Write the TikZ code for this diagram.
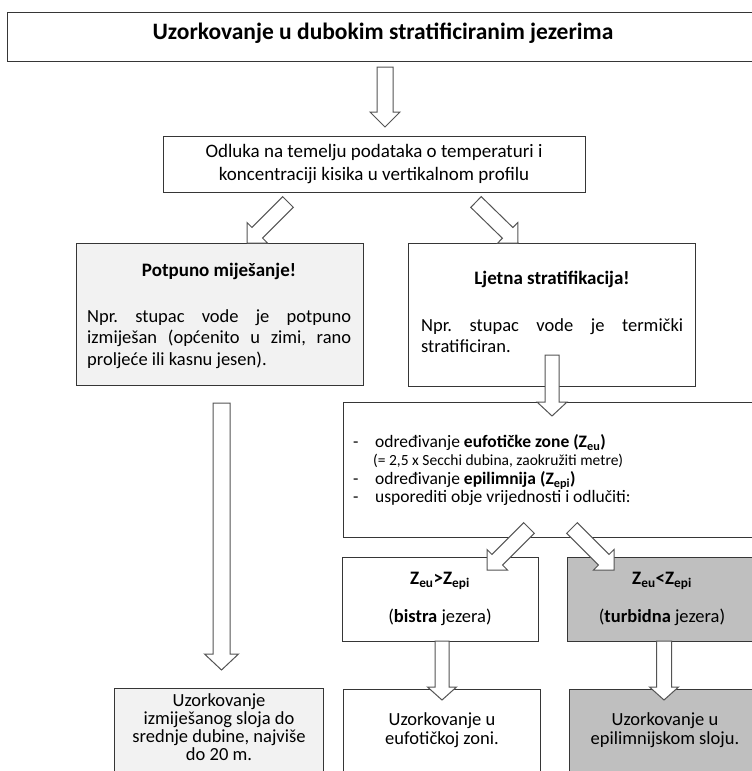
\documentclass[tikz,border=0pt]{standalone}
\usepackage{fontspec}
\setmainfont{Carlito}
\usetikzlibrary{calc}
\frenchspacing
\definecolor{lightfill}{HTML}{F2F2F2}
\definecolor{darkfill}{HTML}{BFBFBF}
\definecolor{edge}{HTML}{363636}
\newcommand{\blkarrow}[5]{%
  \coordinate (ba-b) at ($(#2)!#5!(#1)$);
  \draw[arrowbody] ($(#1)!#3!90:(#2)$) -- ($(ba-b)!#3!90:(#2)$) -- ($(ba-b)!#4!90:(#2)$)
    -- (#2) -- ($(ba-b)!#4!-90:(#2)$) -- ($(ba-b)!#3!-90:(#2)$) -- ($(#1)!#3!-90:(#2)$) -- cycle;}
\tikzset{
  box/.style={draw=edge, line width=1.1pt, inner sep=0pt, anchor=north west},
  arrowbody/.style={draw=edge!85, fill=white, line width=1pt, line join=miter},
  txt/.style={inner sep=0pt, font=\fontsize{18.5}{22}\selectfont, text height=0.7em, text depth=0.2em},
  listtxt/.style={inner sep=0pt, font=\fontsize{17.5}{21}\selectfont, text height=0.7em, text depth=0.2em},
  smalltxt/.style={inner sep=0pt, font=\fontsize{15.5}{19}\selectfont, text height=0.7em, text depth=0.2em},
  para/.style={inner sep=0pt, font=\fontsize{18.5}{21.5}\selectfont, align=justify, anchor=north west},
  btxt/.style={txt, font=\bfseries\fontsize{19}{22}\selectfont},
}
\begin{document}
\begin{tikzpicture}[x=1pt,y=-1pt]
\useasboundingbox (0,0) rectangle (752,771);
% boxes
\node[box, minimum width=753pt, minimum height=49pt] (title) at (7,12) {};
\node[box, minimum width=422pt, minimum height=56pt] (odl) at (163,136) {};
\node[box, fill=lightfill, minimum width=287pt, minimum height=142pt] (mix) at (76,243) {};
\node[box, minimum width=287pt, minimum height=143pt] (strat) at (408,243) {};
\node[box, minimum width=420pt, minimum height=135pt] (det) at (343,402) {};
\node[box, minimum width=196pt, minimum height=84pt] (clear) at (342,557) {};
\node[box, fill=darkfill, minimum width=200pt, minimum height=84pt] (turb) at (567,557) {};
\node[box, fill=lightfill, minimum width=209pt, minimum height=100pt] (smix) at (114,688) {};
\node[box, minimum width=197pt, minimum height=100pt] (seu) at (343,689) {};
\node[box, fill=darkfill, minimum width=200pt, minimum height=100pt] (sepi) at (569,689) {};
% texts
\node[txt, font=\bfseries\fontsize{23.5}{27}\selectfont] (ttltxt) at (383,37) {Uzorkovanje u dubokim stratificiranim jezerima};
\node[txt, font=\fontsize{19}{22}\selectfont] (odl1) at (374,155) {Odluka na temelju podataka o temperaturi i};
\node[txt, font=\fontsize{19}{22}\selectfont] (odl2) at (374,178) {koncentraciji kisika u vertikalnom profilu};
\node[btxt] (mixh) at (219,274) {Potpuno miješanje!};
\node[para, text width=264pt] (mixp) at (87,309) {Npr. stupac vode je potpuno\linebreak izmiješan (općenito u zimi, rano\linebreak proljeće ili kasnu jesen).};
\node[btxt] (strath) at (552,282) {Ljetna stratifikacija!};
\node[para, text width=262pt] (stratp) at (421,318) {Npr. stupac vode je termički\linebreak stratificiran.};
\node[listtxt, anchor=west] (d1) at (353,445) {-};
\node[listtxt, anchor=west] (l1) at (375,445) {određivanje \textbf{eufotičke zone (Z\textsubscript{eu})}};
\node[smalltxt, anchor=west] (l2) at (373,463) {(= 2,5 x Secchi dubina, zaokružiti metre)};
\node[listtxt, anchor=west] (d3) at (353,482) {-};
\node[listtxt, anchor=west] (l3) at (375,482) {određivanje \textbf{epilimnija (Z\textsubscript{epi})}};
\node[listtxt, anchor=west] (d4) at (353,500) {-};
\node[listtxt, anchor=west] (l4) at (375,500) {usporediti obje vrijednosti i odlučiti:};
\node[btxt] (c1) at (440,582) {Z\textsubscript{eu}>Z\textsubscript{epi}};
\node[txt] (c2) at (440,620) {(\textbf{bistra} jezera)};
\node[btxt] (t1) at (662,582) {Z\textsubscript{eu}<Z\textsubscript{epi}};
\node[txt] (t2) at (662,620) {(\textbf{turbidna} jezera)};
\node[txt] (s1) at (219,704) {Uzorkovanje};
\node[txt] (s2) at (219,722) {izmiješanog sloja do};
\node[txt] (s3) at (219,740) {srednje dubine, najviše};
\node[txt] (s4) at (219,758) {do 20 m.};
\node[txt] (e1) at (442,723) {Uzorkovanje u};
\node[txt] (e2) at (442,742) {eufotičkoj zoni.};
\node[txt] (p1) at (665,723) {Uzorkovanje u};
\node[txt] (p2) at (665,742) {epilimnijskom sloju.};
% arrow end points
\coordinate (a1t) at (385,67);  \coordinate (a1h) at (385,127);
\coordinate (a2t) at (288,202); \coordinate (a2h) at (247,243);
\coordinate (a3t) at (476,202); \coordinate (a3h) at (518,243);
\coordinate (a4t) at (552,355); \coordinate (a4h) at (552,416);
\coordinate (a5t) at (221.5,403); \coordinate (a5h) at (221.5,670);
\coordinate (a6t) at (529,528); \coordinate (a6h) at (487,570);
\coordinate (a7t) at (572,528); \coordinate (a7h) at (614,570);
\coordinate (a8t) at (442,641); \coordinate (a8h) at (442,700);
\coordinate (a9t) at (664,641); \coordinate (a9h) at (664,700);
\blkarrow{a1t}{a1h}{8pt}{15pt}{15pt}
\blkarrow{a2t}{a2h}{7.5pt}{14.5pt}{14.5pt}
\blkarrow{a3t}{a3h}{7.5pt}{14.5pt}{14.5pt}
\blkarrow{a4t}{a4h}{7pt}{15pt}{14pt}
\blkarrow{a5t}{a5h}{8.5pt}{17pt}{16pt}
\blkarrow{a6t}{a6h}{7.5pt}{14.5pt}{14.5pt}
\blkarrow{a7t}{a7h}{7.5pt}{14.5pt}{14.5pt}
\blkarrow{a8t}{a8h}{7pt}{14.5pt}{13pt}
\blkarrow{a9t}{a9h}{7.5pt}{14.5pt}{13pt}
\end{tikzpicture}
\end{document}
